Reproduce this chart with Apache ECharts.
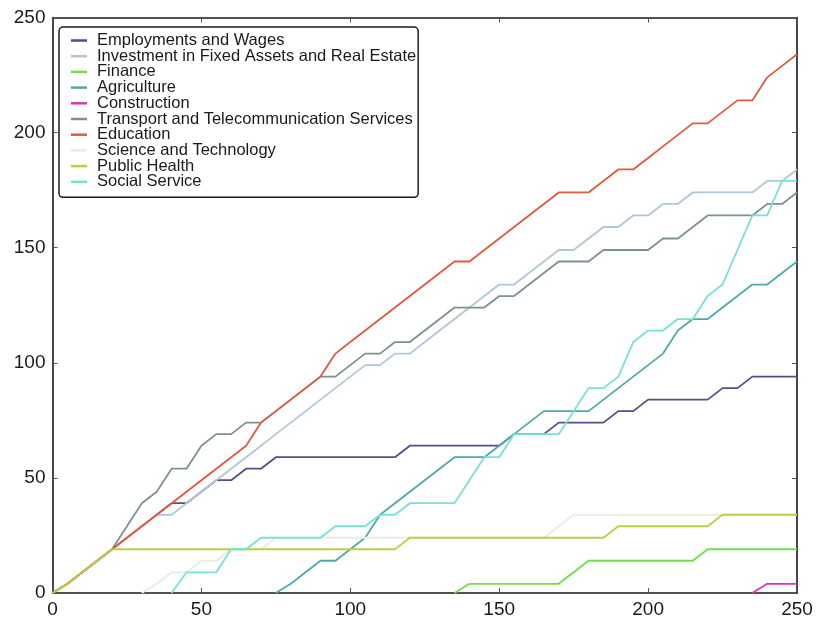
<!DOCTYPE html>
<html>
<head>
<meta charset="utf-8">
<script src="https://cdn.jsdelivr.net/npm/echarts@6/dist/echarts.min.js"></script>
<style>
html, body { margin: 0; padding: 0; background: #fff; }
#main { width: 817px; height: 621px; }
</style>
</head>
<body>
<div id="main"></div>
<script>
// x positions (every 5 units)
var xs = [0, 5, 10, 15, 20, 25, 30, 35, 40, 45, 50, 55, 60, 65, 70, 75, 80, 85, 90, 95,
	100, 105, 110, 115, 120, 125, 130, 135, 140, 145, 150, 155, 160, 165, 170, 175, 180, 185, 190, 195,
	200, 205, 210, 215, 220, 225, 230, 235, 240, 245, 250];

var names = ['Employments and Wages', 'Investment in Fixed Assets and Real Estate', 'Finance', 'Agriculture',
	'Construction', 'Transport and Telecommunication Services', 'Education', 'Science and Technology',
	'Public Health', 'Social Service'];

var colors = ['#5b4a8b', '#afc8d8', '#6fdf4c', '#4fa9a8', '#e030c4', '#7c938a', '#e2593d', '#ebebe2', '#bfcd45', '#74e2d8'];

var employments = [0, 4, 9, 14, 19, 24, 29, 34, 39, 39, 44, 49, 49, 54, 54, 59, 59, 59, 59, 59,
	59, 59, 59, 59, 64, 64, 64, 64, 64, 64, 64, 69, 69, 69, 74, 74, 74, 74, 79, 79,
	84, 84, 84, 84, 84, 89, 89, 94, 94, 94, 94];
var investment = [0, 4, 9, 14, 19, 24, 29, 34, 34, 39, 44, 49, 54, 59, 64, 69, 74, 79, 84, 89,
	94, 99, 99, 104, 104, 109, 114, 119, 124, 129, 134, 134, 139, 144, 149, 149, 154, 159, 159, 164,
	164, 169, 169, 174, 174, 174, 174, 174, 179, 179, 184];
var finance = [null, null, null, null, null, null, null, null, null, null, null, null, null, null, null, null, null, null, null, null,
	null, null, null, null, null, null, null, 0, 4, 4, 4, 4, 4, 4, 4, 9, 14, 14, 14, 14,
	14, 14, 14, 14, 19, 19, 19, 19, 19, 19, 19];
var agriculture = [null, null, null, null, null, null, null, null, null, null, null, null, null, null, null, 0, 4, 9, 14, 14,
	19, 24, 34, 39, 44, 49, 54, 59, 59, 59, 64, 69, 74, 79, 79, 79, 79, 84, 89, 94,
	99, 104, 114, 119, 119, 124, 129, 134, 134, 139, 144];
var construction = [null, null, null, null, null, null, null, null, null, null, null, null, null, null, null, null, null, null, null, null,
	null, null, null, null, null, null, null, null, null, null, null, null, null, null, null, null, null, null, null, null,
	null, null, null, null, null, null, null, 0, 4, 4, 4];
var transport = [0, 4, 9, 14, 19, 29, 39, 44, 54, 54, 64, 69, 69, 74, 74, 79, 84, 89, 94, 94,
	99, 104, 104, 109, 109, 114, 119, 124, 124, 124, 129, 129, 134, 139, 144, 144, 144, 149, 149, 149,
	149, 154, 154, 159, 164, 164, 164, 164, 169, 169, 174];
var education = [0, 4, 9, 14, 19, 24, 29, 34, 39, 44, 49, 54, 59, 64, 74, 79, 84, 89, 94, 104,
	109, 114, 119, 124, 129, 134, 139, 144, 144, 149, 154, 159, 164, 169, 174, 174, 174, 179, 184, 184,
	189, 194, 199, 204, 204, 209, 214, 214, 224, 229, 234];
var science = [null, null, null, null, null, null, 0, 4, 9, 9, 14, 14, 19, 19, 19, 24, 24, 24, 24, 24,
	24, 24, 24, 24, 24, 24, 24, 24, 24, 24, 24, 24, 24, 24, 29, 34, 34, 34, 34, 34,
	34, 34, 34, 34, 34, 34, 34, 34, 34, 34, 34];
var publicHealth = [0, 4, 9, 14, 19, 19, 19, 19, 19, 19, 19, 19, 19, 19, 19, 19, 19, 19, 19, 19,
	19, 19, 19, 19, 24, 24, 24, 24, 24, 24, 24, 24, 24, 24, 24, 24, 24, 24, 29, 29,
	29, 29, 29, 29, 29, 34, 34, 34, 34, 34, 34];
var socialService = [null, null, null, null, null, null, null, null, 0, 9, 9, 9, 19, 19, 24, 24, 24, 24, 24, 29,
	29, 29, 34, 34, 39, 39, 39, 39, 49, 59, 59, 69, 69, 69, 69, 79, 89, 89, 94, 109,
	114, 114, 119, 119, 129, 134, 149, 164, 164, 179, 179];

var allValues = [employments, investment, finance, agriculture, construction, transport, education, science, publicHealth, socialService];

var tickValues = [0, 50, 100, 150, 200, 250];

function drawChart() {
	var myChart = echarts.init(document.getElementById('main'));
	var font = '"Liberation Sans", Arial, sans-serif';

	var series = [];
	for (var i = 0; i < names.length; i++) {
		var pts = [];
		for (var j = 0; j < xs.length; j++) {
			pts.push([xs[j], allValues[i][j]]);
		}
		series.push({
			name: names[i],
			type: 'line',
			showSymbol: false,
			symbol: 'none',
			color: colors[i],
			lineStyle: { width: 1.8, color: colors[i] },
			data: pts,
			animation: false
		});
	}

	function axisBase(pos, labels) {
		return {
			type: 'value',
			position: pos,
			min: tickValues[0],
			max: tickValues[tickValues.length - 1],
			interval: 50,
			axisLine: { show: true, onZero: false, lineStyle: { color: '#1a1a1a', width: 1.6 } },
			axisTick: { show: true, inside: true, length: 5, lineStyle: { color: '#555', width: 1 } },
			axisLabel: {
				show: labels,
				color: '#1a1a1a',
				fontSize: 19,
				fontFamily: font,
				margin: 7
			},
			splitLine: { show: false }
		};
	}

	var option = {
		backgroundColor: '#ffffff',
		animation: false,
		grid: {
			left: 52.5,
			right: 20,
			top: 17.5,
			bottom: 28
		},
		legend: {
			orient: 'vertical',
			left: 59,
			top: 27,
			padding: [5, 2, 7, 12],
			itemGap: -1.3,
			itemWidth: 16,
			itemHeight: 2.5,
			icon: 'rect',
			backgroundColor: '#ffffff',
			borderColor: '#1a1a1a',
			borderWidth: 1.5,
			borderRadius: 4,
			textStyle: {
				color: '#1a1a1a',
				fontSize: 16.5,
				fontFamily: font,
				lineHeight: 15,
				padding: [0, 0, 0, 5]
			},
			data: names
		},
		xAxis: [axisBase('bottom', true), axisBase('top', false)],
		yAxis: [axisBase('left', true), axisBase('right', false)],
		series: series
	};
	myChart.setOption(option);
}

drawChart();
</script>
</body>
</html>
